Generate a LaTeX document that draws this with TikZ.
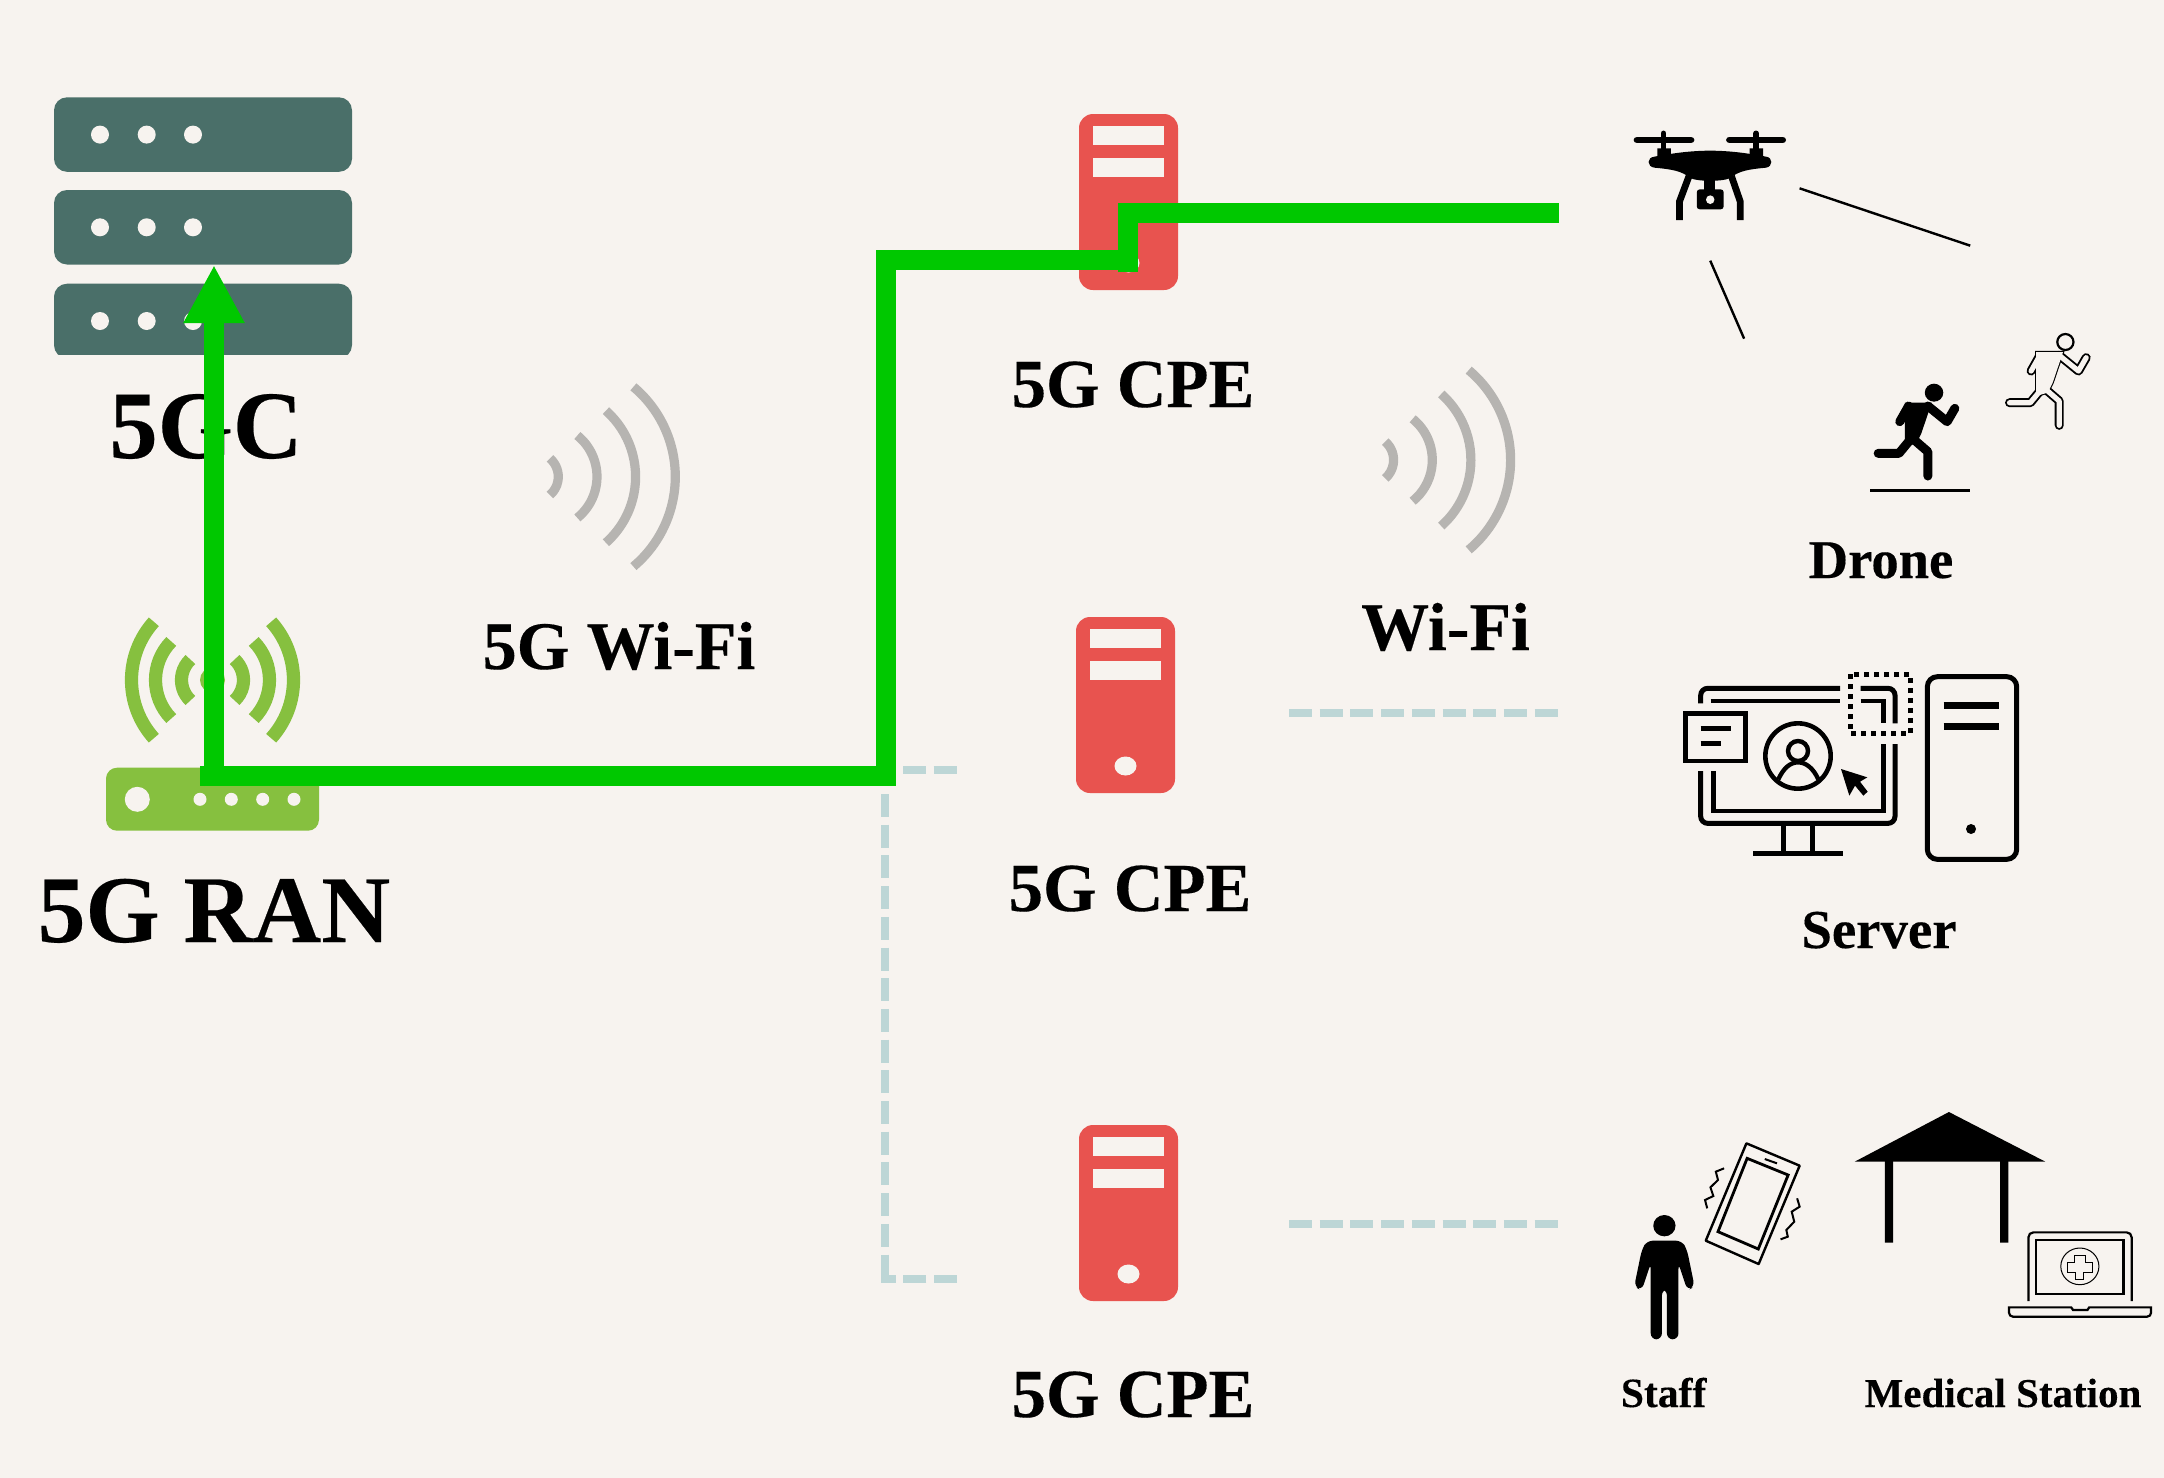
\documentclass[tikz,border=0pt]{standalone}
\usepackage{fontspec}
\setmainfont[BoldFeatures={FakeBold=0.25}]{Liberation Serif}
\usetikzlibrary{arrows.meta}
\definecolor{bgc}{HTML}{F7F3EF}
\definecolor{rack}{HTML}{4A6F69}
\definecolor{cpe}{HTML}{E8534F}
\definecolor{ran}{HTML}{86C03F}
\definecolor{link}{HTML}{00C800}
\definecolor{wave}{HTML}{B6B4B1}
\definecolor{dashc}{HTML}{BDD6D6}
\tikzset{
  lab/.style={anchor=base,inner sep=0pt,font=\bfseries},
  wavearc/.style={draw=wave,line width=4.6pt},
  ranarc/.style={draw=ran,line width=6.6pt},
  route/.style={draw=link,line width=10pt,miter limit=10},
  lightdash/.style={draw=dashc,line width=4pt,dash pattern=on 11.5pt off 3.85pt},
  thinline/.style={draw=black,line width=1.2pt},
  icon/.style={draw=black,line width=2.5pt},
}
\newcommand{\sz}[1]{\fontsize{#1}{#1}\selectfont}
\newcommand{\waveset}[2]{%
  \begin{scope}[shift={(#1,#2)}]
    \draw[wavearc] ([shift={(534,476.7)}]-49:24.3) arc[start angle=-49,end angle=49,radius=24.3];
    \draw[wavearc] ([shift={(544,476.7)}]-51:53) arc[start angle=-51,end angle=51,radius=53];
    \draw[wavearc] ([shift={(547.3,476.7)}]-48.4:88.3) arc[start angle=-48.4,end angle=48.4,radius=88.3];
    \draw[wavearc] ([shift={(558,476.7)}]-50:117.3) arc[start angle=-50,end angle=50,radius=117.3];
  \end{scope}}
\newcommand{\tower}[2]{% left, top
  \begin{scope}[shift={(#1,#2)}]
    \fill[cpe,rounded corners=7pt] (0,0) rectangle (99,176);
    \fill[bgc] (14,12) rectangle (85,31);
    \fill[bgc] (14,44) rectangle (85,63);
    \fill[bgc] (49.5,149) circle[x radius=11,y radius=9.5];
  \end{scope}}
\newcommand{\rackunit}[1]{%
  \fill[rack,rounded corners=6.5pt] (54,#1) rectangle (352,#1+74.5);
  \fill[bgc] (100,#1+37.3) circle[radius=9];
  \fill[bgc] (146.7,#1+37.3) circle[radius=9];
  \fill[bgc] (193,#1+37.3) circle[radius=9];}
\newcommand{\limbs}{(1025,925) -- (1005,965) -- (955,918) (905,918) -- (882,965)
  (915,1015) -- (955,1055) -- (955,1128) (905,1025) -- (880,1060) -- (826,1060)}
\newcommand{\torso}{(895,908) -- (965,908) -- (938,1000) -- (925,1030) -- (895,1040) -- cycle}
\begin{document}
\begin{tikzpicture}[x=0.5pt,y=-0.5pt]
\path[use as bounding box,fill=bgc] (0,0) rectangle (2164,1478);

% 5GC racks
\rackunit{97.3}
\rackunit{190}
\begin{scope}
  \clip (40,270) rectangle (360,354);
  \rackunit{283.7}
\end{scope}

% 5G RAN
\begin{scope}[shift={(212.5,680)}]
  \fill[ran] (0,0) circle[radius=12.5];
  \foreach \o/\r/\a in {-6/87/42,2/55/44.5,3/28/47}{
    \draw[ranarc] ([shift={(\o,0)}]-\a:\r) arc[start angle=-\a,end angle=\a,radius=\r];
    \draw[ranarc] ([shift={(-\o,0)}]180-\a:\r) arc[start angle=180-\a,end angle=180+\a,radius=\r];
  }
\end{scope}
\fill[ran,rounded corners=5.5pt] (106,767.7) rectangle (319,830.7);
\fill[bgc] (137.3,799.3) circle[radius=12.5];
\foreach \x in {200,231.3,262.7,294}{\fill[bgc] (\x,799.3) circle[radius=6.5];}

% CPE towers
\tower{1079}{114}
\tower{1076}{617}
\tower{1079}{1125}

% waves
\waveset{0}{0}
\waveset{835.3}{-16.7}

% dashed links
\coordinate (h1a) at (1289,713.3); \coordinate (h1b) at (1559,713.3);
\coordinate (h2a) at (1289,1223.7); \coordinate (h2b) at (1559,1223.7);
\coordinate (t1a) at (903,769.7); \coordinate (t1b) at (957,769.7);
\coordinate (v1a) at (884.5,794); \coordinate (v1b) at (884.5,1279);
\coordinate (b1a) at (957,1279); \coordinate (b1b) at (880.5,1279);
\draw[lightdash] (h1a) -- (h1b);
\draw[lightdash] (h2a) -- (h2b);
\draw[lightdash] (t1a) -- (t1b);
\draw[lightdash] (v1a) -- (v1b);
\draw[lightdash] (b1a) -- (b1b);

% labels
\node[lab] (lgc) at (206,458) {\sz{48.3}5GC};
\node[lab] (lran) at (214,942) {\sz{47.7}5G RAN};
\node[lab] (lw5) at (619,669) {\sz{34}5G Wi-Fi};
\node[lab] (lwf) at (1445.5,650) {\sz{34}Wi-Fi};
\node[lab] (lc1) at (1133,407) {\sz{34.4}5G CPE};
\node[lab] (lc2) at (1130,911) {\sz{34.4}5G CPE};
\node[lab] (lc3) at (1133,1417) {\sz{34.4}5G CPE};
\node[lab] (ldr) at (1881,578) {\sz{27.3}Drone};
\node[lab] (lsv) at (1879,948) {\sz{27.4}Server};
\node[lab] (lst) at (1663.6,1407) {\sz{20.8}Staff};
\node[lab] (lms) at (2003,1407) {\sz{20.5}Medical Station};

% green route
\coordinate (r0) at (200,776); \coordinate (r1) at (886,776);
\coordinate (r2) at (886,260); \coordinate (r3) at (1138,260);
\coordinate (r4) at (1128,272); \coordinate (r5) at (1128,212.5);
\coordinate (r6) at (1559,212.5);
\coordinate (a0) at (214,786); \coordinate (a1) at (214,265);
\draw[route,line join=miter] (r0) -- (r1) -- (r2) -- (r3);
\draw[route,line join=miter] (r4) -- (r5) -- (r6);
\draw[route,-{Triangle[length=29pt,width=28.5pt]}] (a0) -- (a1);

% Drone and runners
\begin{scope}[shift={(1560,100)},x=0.1926pt,y=-0.16667pt]
  \draw[line width=3.4pt,line cap=round] (200,120) -- (340,120) (440,120) -- (578,120);
  \draw[line width=2.8pt,line cap=round] (269,100) -- (269,150) (509,100) -- (509,150);
  \fill (253,145) rectangle (288,175) (492,145) rectangle (527,175);
  \fill (245,170) .. controls (290,160) and (340,152) .. (390,152) .. controls (440,152) and (490,160) .. (535,170) .. controls (553,172) and (553,200) .. (535,203) .. controls (490,208) and (465,212) .. (440,235) .. controls (420,245) and (360,245) .. (340,235) .. controls (315,212) and (290,208) .. (245,203) .. controls (225,200) and (225,172) .. (245,170) -- cycle;
  \draw[line width=3.4pt,line join=miter] (335,228) -- (310,305) -- (310,360) (445,228) -- (468,305) -- (468,360);
  \fill (375,238) rectangle (403,272);
  \fill[rounded corners=1.5pt] (355,268) rectangle (425,328);
  \fill[bgc] (390,299) circle[x radius=11,y radius=13];
  \coordinate (d1a) at (622,265); \coordinate (d1b) at (1065,437);
  \coordinate (d2a) at (390,482); \coordinate (d2b) at (478,716);
  \draw[thinline] (d1a) -- (d1b);
  \draw[thinline] (d2a) -- (d2b);
  % solid runner
  \fill (971,878) circle[x radius=24,y radius=27];
  \draw[line width=4.5pt,line cap=round,line join=round] \limbs;
  \fill \torso;
  \draw[line width=1.5pt] (806,1170) -- (1065,1170);
  % outline runner
  \draw[line width=1.1pt] (1312,726) circle[x radius=21,y radius=24];
  \begin{scope}[shift={(341,-152)}]
    \draw[line width=4.5pt,line cap=round,line join=round] \limbs;
    \filldraw[line width=1.1pt] \torso;
    \draw[bgc,line width=2.6pt,line cap=round,line join=round] \limbs;
    \fill[bgc] \torso;
  \end{scope}
\end{scope}

% Server
\begin{scope}[shift={(1640,640)},x=0.16667pt,y=-0.16667pt]
  \draw[icon,rounded corners=3.5pt] (182,190) -- (182,145) -- (600,145);
  \draw[icon,rounded corners=3.5pt] (662,145) -- (765,145) -- (765,250);
  \draw[icon,rounded corners=3.5pt] (765,312) -- (765,550) -- (182,550) -- (182,393);
  \draw[line width=2.3pt] (212,183) -- (600,183);
  \draw[line width=2.3pt] (662,183) -- (730,183) -- (730,250);
  \draw[line width=2.3pt] (730,312) -- (730,513) -- (220,513) -- (220,393);
  \draw[line width=2.4pt] (430,555) -- (430,635) (518,555) -- (518,635) (340,641) -- (608,641);
  \draw[line width=2.4pt] (137,220) rectangle (317,363);
  \draw[line width=2.4pt] (182,265) -- (272,265) (182,311) -- (242,311);
  \draw[line width=2.3pt] (474,348) circle[radius=98];
  \draw[line width=2.2pt] (474,333) circle[radius=30];
  \draw[line width=2.2pt] (415,418) .. controls (430,385) and (450,367) .. (474,367) .. controls (498,367) and (520,385) .. (535,418);
  \fill (603,387) -- (682,412) -- (660,425) -- (683,455) -- (670,467) -- (645,437) -- (628,467) -- cycle;
  \draw[line width=2.5pt,dash pattern=on 2.5pt off 2.5pt] (632,102) rectangle (811,281);
  \draw[icon,rounded corners=5pt] (862,110) rectangle (1130,658);
  \draw[line width=3.6pt] (911,197) -- (1076,197) (911,259) -- (1076,259);
  \fill (993,567) circle[radius=15];
\end{scope}

% Staff, phone, station, laptop
\begin{scope}[shift={(1600,1090)},x=0.17986pt,y=-0.16667pt]
  \fill (179,407) circle[x radius=31,y radius=32];
  \fill[rounded corners=3pt] (130,452) -- (228,452) -- (242,480) -- (263,590) -- (243,601) -- (218,520) -- (218,748) -- (186,748) -- (186,598) -- (172,598) -- (172,748) -- (141,748) -- (141,520) -- (116,601) -- (95,590) -- (116,480) -- cycle;
  \draw[line width=1.2pt,line join=round] (407,160) -- (555,227) -- (441,522) -- (294,452) -- cycle;
  \draw[line width=1.4pt] (409,205) -- (523,255) -- (440,477) -- (328,425) -- cycle;
  \draw[line width=1pt] (458,207) -- (492,220);
  \draw[line width=1pt] (345,235) -- (322,245) -- (328,270) -- (307,292) -- (315,318) -- (292,330) -- (298,355);
  \draw[line width=1pt] (548,325) -- (555,350) -- (533,365) -- (540,395) -- (518,420) -- (522,440) -- (502,448);
  \fill (708,215) -- (970,66) -- (1238,215) -- cycle;
  \fill (792,210) rectangle (815,458) (1112,210) rectangle (1135,458);
  \draw[line width=1.1pt,rounded corners=2.5pt] (1191,633) -- (1191,427) -- (1478,427) -- (1478,633);
  \draw[line width=1.4pt] (1212,450) rectangle (1456,612);
  \draw[line width=.5pt] (1334,529) circle[x radius=53,y radius=55];
  \draw[line width=.6pt] (1319,497) -- (1349,497) -- (1349,517) -- (1370,517) -- (1370,547) -- (1345,547) -- (1345,568) -- (1322,568) -- (1322,547) -- (1299,547) -- (1299,517) -- (1319,517) -- cycle;
  \draw[line width=1.1pt] (1137,665) -- (1137,652) -- (1310,652) -- (1315,660) -- (1355,660) -- (1360,652) -- (1532,652) -- (1532,665) [rounded corners=2pt] -- (1532,680) -- (1137,680) -- (1137,665);
\end{scope}
\end{tikzpicture}
\end{document}
